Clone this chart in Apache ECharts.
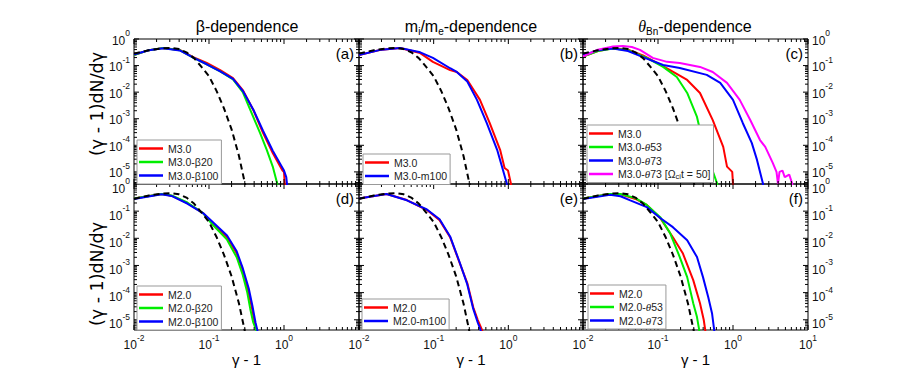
<!DOCTYPE html>
<html><head><meta charset="utf-8">
<script src="https://cdn.jsdelivr.net/npm/echarts@6/dist/echarts.min.js"></script>
<style>html,body{margin:0;padding:0;background:#fff}#c{width:897px;height:389px}</style>
</head><body><div id="c"></div>
<script>
// ---------- data ----------
const maxwellX = [0.01, 0.0158, 0.0251, 0.0316, 0.0398, 0.0501, 0.0631, 0.0794, 0.1, 0.126, 0.158, 0.2, 0.251, 0.302, 0.316];
const maxwellY = [0.282, 0.380, 0.447, 0.457, 0.417, 0.316, 0.191, 0.0891, 0.0398, 0.0112, 0.00251, 0.000398, 3.98e-5, 3.55e-6, 2e-6];

const aRedX = [0.01, 0.0158, 0.0245, 0.0407, 0.0617, 0.0933, 0.141, 0.209, 0.282, 0.389, 0.525, 0.708, 0.891, 0.955, 1.0, 1.023, 1.035];
const aRedY = [0.251, 0.380, 0.457, 0.389, 0.209, 0.126, 0.0676, 0.0339, 0.0120, 0.00214, 2.95e-4, 5.13e-5, 1.58e-5, 1.12e-5, 1.0e-5, 3.55e-6, 1.58e-6];
const aGreenX = [0.01, 0.0158, 0.0245, 0.0407, 0.0617, 0.0933, 0.141, 0.209, 0.282, 0.355, 0.479, 0.589, 0.708, 0.813, 0.832];
const aGreenY = [0.251, 0.380, 0.457, 0.380, 0.200, 0.112, 0.0603, 0.0302, 0.0100, 0.00214, 2.95e-4, 6.76e-5, 1.58e-5, 3.55e-6, 1.58e-6];
const aBlueX = [0.01, 0.0158, 0.0245, 0.0407, 0.0617, 0.0933, 0.141, 0.209, 0.282, 0.389, 0.525, 0.708, 0.891, 1.0, 1.072, 1.096, 1.109];
const aBlueY = [0.263, 0.380, 0.447, 0.372, 0.200, 0.112, 0.0603, 0.0316, 0.0112, 0.00224, 3.55e-4, 6.31e-5, 2.0e-5, 1.12e-5, 6.31e-6, 3.55e-6, 1.58e-6];

const bRedX = [0.01, 0.02, 0.0355, 0.0661, 0.0977, 0.166, 0.204, 0.282, 0.417, 0.562, 0.776, 0.891, 0.989, 1.084, 1.096];
const bRedY = [0.251, 0.398, 0.457, 0.295, 0.138, 0.0676, 0.0575, 0.0288, 0.00513, 6.92e-4, 6.76e-5, 1.41e-5, 1.12e-5, 3.55e-6, 1.58e-6];
const bBlueX = [0.01, 0.02, 0.0355, 0.0661, 0.0977, 0.166, 0.204, 0.282, 0.380, 0.513, 0.708, 0.851, 0.955, 0.977];
const bBlueY = [0.251, 0.398, 0.457, 0.316, 0.195, 0.0794, 0.0575, 0.0251, 0.00513, 6.92e-4, 6.76e-5, 1.12e-5, 3.55e-6, 1.58e-6];

const cRedX = [0.01, 0.0158, 0.0251, 0.0398, 0.0631, 0.1, 0.145, 0.245, 0.363, 0.537, 0.741, 0.832, 0.977, 1.0, 1.012];
const cRedY = [0.219, 0.355, 0.447, 0.398, 0.240, 0.120, 0.0676, 0.0288, 0.00933, 8.91e-4, 8.71e-5, 1.58e-5, 1.0e-5, 3.55e-6, 1.58e-6];
const cGreenX = [0.01, 0.0158, 0.0251, 0.0398, 0.0708, 0.117, 0.178, 0.245, 0.331, 0.398, 0.490, 0.617, 0.631];
const cGreenY = [0.219, 0.355, 0.437, 0.380, 0.195, 0.0891, 0.0372, 0.00933, 0.00117, 1.23e-4, 2.19e-5, 3.55e-6, 1.58e-6];
const cBlueX = [0.01, 0.0158, 0.0251, 0.0398, 0.0631, 0.117, 0.195, 0.447, 0.676, 1.0, 1.349, 1.778, 2.089, 2.512, 2.57];
const cBlueY = [0.240, 0.380, 0.437, 0.355, 0.209, 0.105, 0.0813, 0.0447, 0.0224, 0.00513, 6.92e-4, 1.23e-4, 2.82e-5, 3.55e-6, 1.58e-6];
const cMagX = [0.01, 0.0158, 0.0251, 0.0339, 0.0447, 0.0575, 0.0851, 0.132, 0.195, 0.363, 0.537, 0.832, 1.23, 1.698, 2.291, 2.692, 3.388, 3.802, 3.981, 4.169, 4.571, 4.898, 5.623, 6.166, 6.31];
const cMagY = [0.219, 0.398, 0.525, 0.550, 0.501, 0.389, 0.195, 0.138, 0.126, 0.0891, 0.0575, 0.0224, 0.00513, 8.91e-4, 1.58e-4, 8.71e-5, 2.19e-5, 1.0e-5, 3.55e-6, 1.0e-5, 1.12e-5, 6.31e-6, 7.94e-6, 3.55e-6, 1.58e-6];

const dRedX = [0.01, 0.0234, 0.0316, 0.0513, 0.0832, 0.112, 0.174, 0.234, 0.282, 0.331, 0.372, 0.407, 0.437, 0.447];
const dRedY = [0.295, 0.427, 0.372, 0.200, 0.0851, 0.0363, 0.0110, 0.00282, 6.76e-4, 1.23e-4, 2.88e-5, 7.41e-6, 4.07e-6, 1.58e-6];
const dGreenX = [0.01, 0.0234, 0.0316, 0.0513, 0.0832, 0.112, 0.174, 0.234, 0.282, 0.324, 0.355, 0.389, 0.427, 0.437];
const dGreenY = [0.295, 0.427, 0.380, 0.209, 0.0851, 0.0316, 0.00891, 0.00200, 4.47e-4, 1.0e-4, 2.51e-5, 7.94e-6, 4.07e-6, 1.58e-6];
const dBlueX = [0.01, 0.0234, 0.0316, 0.0513, 0.0832, 0.112, 0.174, 0.234, 0.282, 0.339, 0.380, 0.417, 0.442, 0.447];
const dBlueY = [0.282, 0.417, 0.363, 0.191, 0.0851, 0.0398, 0.0126, 0.00331, 7.94e-4, 1.41e-4, 3.16e-5, 7.94e-6, 4.07e-6, 1.58e-6];

const eRedX = [0.01, 0.0234, 0.0437, 0.0813, 0.120, 0.166, 0.224, 0.282, 0.339, 0.389, 0.447, 0.457];
const eRedY = [0.295, 0.427, 0.257, 0.110, 0.0468, 0.0110, 0.00120, 2.24e-4, 2.88e-5, 1.0e-5, 4.07e-6, 1.58e-6];
const eBlueX = [0.01, 0.0234, 0.0437, 0.0813, 0.120, 0.166, 0.224, 0.282, 0.339, 0.389, 0.427, 0.437];
const eBlueY = [0.295, 0.427, 0.251, 0.115, 0.0501, 0.0117, 0.00126, 2.0e-4, 2.51e-5, 7.94e-6, 4.07e-6, 1.58e-6];

const fRedX = [0.01, 0.0229, 0.0316, 0.0501, 0.0708, 0.107, 0.158, 0.214, 0.295, 0.363, 0.407, 0.427, 0.437];
const fRedY = [0.295, 0.427, 0.417, 0.282, 0.170, 0.0562, 0.0110, 0.00282, 2.88e-4, 4.07e-5, 1.0e-5, 4.07e-6, 1.58e-6];
const fGreenX = [0.01, 0.0229, 0.0316, 0.0501, 0.0708, 0.107, 0.145, 0.195, 0.245, 0.295, 0.331, 0.355, 0.363];
const fGreenY = [0.295, 0.427, 0.427, 0.302, 0.170, 0.0603, 0.0155, 0.00204, 3.72e-4, 4.07e-5, 1.26e-5, 4.07e-6, 1.58e-6];
const fBlueX = [0.01, 0.0229, 0.0316, 0.0427, 0.0708, 0.107, 0.158, 0.245, 0.331, 0.398, 0.468, 0.525, 0.562, 0.575];
const fBlueY = [0.282, 0.398, 0.355, 0.251, 0.141, 0.0562, 0.0257, 0.00851, 0.00204, 3.72e-4, 6.76e-5, 1.74e-5, 4.07e-6, 1.58e-6];

// axis tick values
const xMajorTicks = [0.01, 0.1, 1, 10];
const yMajorTicks = [1e-5, 1e-4, 1e-3, 1e-2, 1e-1, 1];
const panelLetters = ['(a)', '(b)', '(c)', '(d)', '(e)', '(f)'];

// ---------- styling / layout ----------
const FONT = 'Liberation Sans, Arial, Helvetica, sans-serif';
const RED = '#ff0000', GREEN = '#00ee00', BLUE = '#0000ff', MAG = '#ff00ff';
const gridPos = [
  {left: 134, top: 39, width: 225, height: 145},
  {left: 359, top: 39, width: 224, height: 145},
  {left: 583, top: 39, width: 225, height: 145},
  {left: 134, top: 184, width: 225, height: 146},
  {left: 359, top: 184, width: 224, height: 146},
  {left: 583, top: 184, width: 225, height: 146}
];
const yMinTop = 3.5e-6, yMinBottom = 4.2e-6;

const panels = [
  {lines: [['M3.0', aRedX, aRedY, RED], ['M3.0-β20', aGreenX, aGreenY, GREEN], ['M3.0-β100', aBlueX, aBlueY, BLUE]], legend: {left: 137, top: 140}},
  {lines: [['M3.0', bRedX, bRedY, RED], ['M3.0-m100', bBlueX, bBlueY, BLUE]], legend: {left: 363, top: 154}},
  {lines: [['M3.0', cRedX, cRedY, RED], ['M3.0-θ53', cGreenX, cGreenY, GREEN], ['M3.0-θ73', cBlueX, cBlueY, BLUE], ['M3.0-θ73 [Ωci t = 50]', cMagX, cMagY, MAG]], legend: {left: 587, top: 125}},
  {lines: [['M2.0', dRedX, dRedY, RED], ['M2.0-β20', dGreenX, dGreenY, GREEN], ['M2.0-β100', dBlueX, dBlueY, BLUE]], legend: {left: 137, top: 286}},
  {lines: [['M2.0', eRedX, eRedY, RED], ['M2.0-m100', eBlueX, eBlueY, BLUE]], legend: {left: 362, top: 299}},
  {lines: [['M2.0', fRedX, fRedY, RED], ['M2.0-θ53', fGreenX, fGreenY, GREEN], ['M2.0-θ73', fBlueX, fBlueY, BLUE]], legend: {left: 588, top: 285}}
];

const legendLabel = {
  'M3.0-θ53': 'M3.0-{it|θ}53',
  'M3.0-θ73': 'M3.0-{it|θ}73',
  'M3.0-θ73 [Ωci t = 50]': 'M3.0-{it|θ}73 [Ω{sb|ci}t = 50]',
  'M2.0-θ53': 'M2.0-{it|θ}53',
  'M2.0-θ73': 'M2.0-{it|θ}73'
};

function pairs(xs, ys) { return xs.map((x, i) => [x, ys[i]]); }

function powLabel(v) {
  const l = Math.log10(v);
  const e = Math.round(l);
  if (Math.abs(l - e) > 1e-6) return '';
  return '{b|10}{s|' + e + '}';
}
const supRich = {
  b: {fontSize: 12, lineHeight: 18, verticalAlign: 'bottom', color: '#111', fontFamily: FONT},
  s: {fontSize: 8.5, lineHeight: 10, verticalAlign: 'top', color: '#111', fontFamily: FONT}
};

function minorList(lo, hi) {
  const out = [];
  for (let e = -7; e <= 1; e++) {
    for (let m = 2; m <= 9; m++) {
      const v = m * Math.pow(10, e);
      if (v > lo && v < hi) out.push(v);
    }
  }
  return out;
}

function tickData(row) {
  const yMin = row === 0 ? yMinTop : yMinBottom;
  const d = [];
  xMajorTicks.forEach(v => d.push([v, 1, 1]));
  minorList(0.01, 10).forEach(v => d.push([v, 1, 0]));
  yMajorTicks.forEach(v => { if (v >= yMin) d.push([0.01, v, 3]); });
  minorList(yMin, 1).forEach(v => d.push([0.01, v, 2]));
  return d;
}

function renderTick(params, api) {
  const cs = params.coordSys;
  const kind = api.value(2);
  const len = (kind % 2 === 1) ? 5 : 3;
  const st = {stroke: '#000', lineWidth: 1};
  if (kind < 2) {
    const px = api.coord([api.value(0), 1])[0];
    const yb = cs.y + cs.height, yt = cs.y;
    return {type: 'group', children: [
      {type: 'line', shape: {x1: px, y1: yb, x2: px, y2: yb - len}, style: st},
      {type: 'line', shape: {x1: px, y1: yt, x2: px, y2: yt + len}, style: st}
    ]};
  } else {
    const py = api.coord([0.01, api.value(1)])[1];
    const xl = cs.x, xr = cs.x + cs.width;
    return {type: 'group', children: [
      {type: 'line', shape: {x1: xl, y1: py, x2: xl + len, y2: py}, style: st},
      {type: 'line', shape: {x1: xr, y1: py, x2: xr - len, y2: py}, style: st}
    ]};
  }
}

const option = {
  animation: false,
  textStyle: {fontFamily: FONT},
  grid: [], xAxis: [], yAxis: [], series: [], legend: [], graphic: []
};

panels.forEach((p, i) => {
  const row = i < 3 ? 0 : 1, col = i % 3;
  option.grid.push(Object.assign({show: true, borderColor: '#000', borderWidth: 1, backgroundColor: 'transparent'}, gridPos[i]));
  option.xAxis.push({
    type: 'log', logBase: 10, gridIndex: i, min: 0.01, max: 10,
    axisLine: {show: false}, axisTick: {show: false}, splitLine: {show: false}, minorTick: {show: false},
    axisLabel: {show: row === 1, formatter: powLabel, rich: supRich, margin: 3, showMinLabel: true, showMaxLabel: col === 2},
    name: row === 1 ? 'γ - 1' : '', nameLocation: 'middle', nameGap: 13,
    nameTextStyle: {fontSize: 15, color: '#000', fontFamily: FONT, verticalAlign: 'top'}
  });
  option.yAxis.push({
    type: 'log', logBase: 10, gridIndex: i, min: row === 0 ? yMinTop : yMinBottom, max: 1,
    position: col === 2 ? 'right' : 'left',
    axisLine: {show: false}, axisTick: {show: false}, splitLine: {show: false}, minorTick: {show: false},
    axisLabel: {show: col !== 1, formatter: powLabel, rich: supRich, margin: 4, showMinLabel: true, showMaxLabel: true,
      padding: row === 0 ? [0, 0, 3, 0] : [3, 0, 0, 0]}
  });
  p.lines.forEach(l => {
    option.series.push({
      type: 'line', name: l[0], xAxisIndex: i, yAxisIndex: i, data: pairs(l[1], l[2]),
      symbol: 'none', showSymbol: false, color: l[3],
      lineStyle: {color: l[3], width: 2}, itemStyle: {color: l[3]}, z: 3, clip: true
    });
  });
  option.series.push({
    type: 'line', name: 'Maxwellian', xAxisIndex: i, yAxisIndex: i, data: pairs(maxwellX, maxwellY),
    symbol: 'none', showSymbol: false, color: '#000',
    lineStyle: {color: '#000', width: 2, type: [6, 4]}, z: 4, clip: true
  });
  option.series.push({
    type: 'custom', xAxisIndex: i, yAxisIndex: i, silent: true, clip: false, z: 6,
    data: tickData(row), renderItem: renderTick
  });
  option.legend.push({
    orient: 'vertical', left: p.legend.left, top: p.legend.top, z: 20,
    data: p.lines.map(l => l[0]), selectedMode: false,
    backgroundColor: '#fff', borderColor: '#999', borderWidth: 1, borderRadius: 0,
    padding: [2, 3, 2, 2], itemGap: 0.5, itemWidth: 24, itemHeight: 2.5, icon: 'rect',
    formatter: n => legendLabel[n] || n,
    textStyle: {fontSize: 10.5, lineHeight: 13, color: '#222', fontFamily: FONT,
      rich: {
        it: {fontSize: 11, fontStyle: 'italic', fontFamily: 'Liberation Serif, serif', color: '#222', lineHeight: 13},
        sb: {fontSize: 7.5, lineHeight: 8, verticalAlign: 'bottom', color: '#222'}
      }}
  });
  const g = gridPos[i];
  option.graphic.push({
    type: 'text', x: g.left + g.width - 5, y: g.top + 14, silent: true,
    style: {text: panelLetters[i], fontSize: 15, fontFamily: FONT, fill: '#000', align: 'right', verticalAlign: 'middle'}
  });
});

// column titles
const titleRich = {
  n: {fontSize: 16, lineHeight: 20, fontFamily: FONT, color: '#000'},
  sb: {fontSize: 10, lineHeight: 11, verticalAlign: 'bottom', fontFamily: FONT, color: '#000'},
  it: {fontSize: 16, lineHeight: 20, fontStyle: 'italic', fontFamily: 'Liberation Serif, serif', color: '#000'}
};
const titleText = [
  '{n|β-dependence}',
  '{n|m}{sb|i}{n|/m}{sb|e}{n|-dependence}',
  '{it|θ}{sb|Bn}{n|-dependence}'
];
[247, 471, 695].forEach((cx, k) => {
  option.graphic.push({
    type: 'text', x: cx, y: 26, silent: true,
    style: {text: titleText[k], rich: titleRich, fontSize: 16, fontFamily: FONT, fill: '#000', align: 'center', verticalAlign: 'middle'}
  });
});
// y-axis names
[104, 274].forEach(cy => {
  option.graphic.push({
    type: 'text', x: 97, y: cy, rotation: Math.PI / 2, silent: true,
    style: {text: '(γ - 1)dN/dγ', fontSize: 17.5, fontFamily: 'DejaVu Sans, sans-serif', fill: '#000', align: 'center', verticalAlign: 'middle'}
  });
});

const chart = echarts.init(document.getElementById('c'), null, {renderer: 'svg'});
chart.setOption(option);
</script></body></html>
